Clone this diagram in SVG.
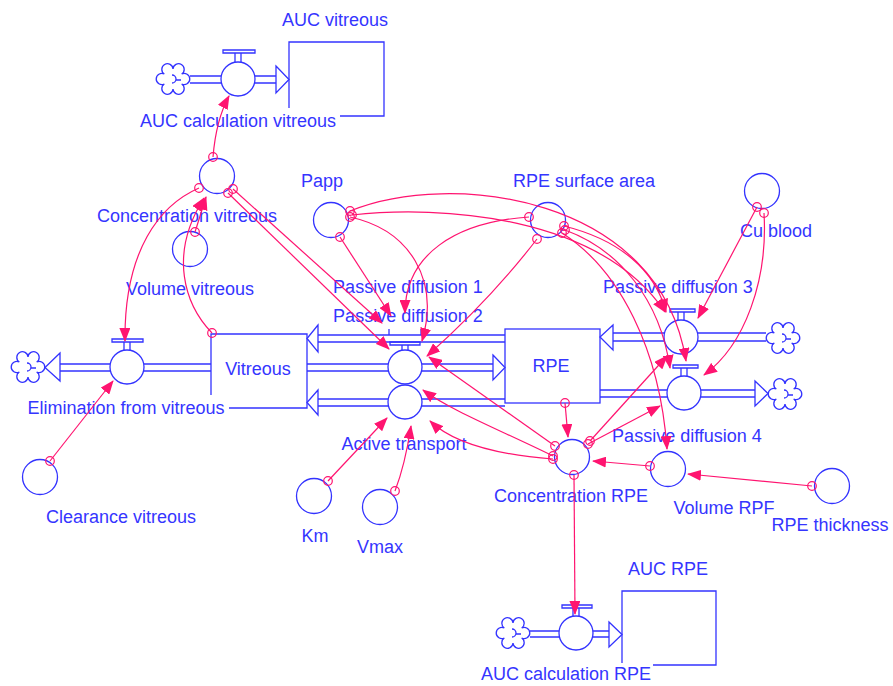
<svg xmlns="http://www.w3.org/2000/svg" width="893" height="686" viewBox="0 0 893 686">
  <style>
    .lbl { font-family: "Liberation Sans", Arial, sans-serif; font-size: 18px; fill: #3535ff; text-anchor: middle; }
    .ln { fill: none; stroke: #3333ff; stroke-width: 1.3; }
    .sh { fill: #ffffff; stroke: #3333ff; stroke-width: 1.3; }
    .link { fill: none; stroke: #ff1470; stroke-width: 1.2; marker-start: url(#src); marker-end: url(#ah); }
  </style>
  <defs>
    <marker id="ah" viewBox="0 0 14 11" refX="13" refY="5.5" markerWidth="14" markerHeight="11" markerUnits="userSpaceOnUse" orient="auto">
      <path d="M0,0 L14,5.5 L0,11 z" fill="#ff1470"/>
    </marker>
    <marker id="src" viewBox="-6 -6 12 12" refX="0" refY="0" markerWidth="12" markerHeight="12" markerUnits="userSpaceOnUse">
      <circle r="4.3" fill="none" stroke="#ff1470" stroke-width="1.2"/>
    </marker>
    <!-- source/sink cloud -->
    <g id="cloud">
      <path class="sh" d="M0,-10 A5.6,5.6 0 1 1 8.66,-5 A5.6,5.6 0 1 1 8.66,5 A5.6,5.6 0 1 1 0,10 A5.6,5.6 0 1 1 -8.66,5 A5.6,5.6 0 1 1 -8.66,-5 A5.6,5.6 0 1 1 0,-10 z"/>
      <path class="ln" d="M-1,-4 A4,4 0 1 1 -1,4 M3,1 L8,1"/>
    </g>
  </defs>

  <rect width="893" height="686" fill="#ffffff"/>

  <!-- stocks -->
  <g id="AUC_vitreous">
    <path class="ln" d="M289,108 V42 H384 V116 H340"/>
    <text class="lbl" x="335" y="26">AUC vitreous</text>
  </g>
  <g id="Vitreous">
    <path class="ln" d="M211,395 V334 H307 V408 H229"/>
    <text class="lbl" x="258" y="375">Vitreous</text>
  </g>
  <g id="RPE">
    <rect class="ln" x="505" y="329" width="95" height="74"/>
    <text class="lbl" x="551" y="372">RPE</text>
  </g>
  <g id="AUC_RPE">
    <path class="ln" d="M622,663 V591 H716 V665 H653"/>
    <text class="lbl" x="668" y="575">AUC RPE</text>
  </g>

  <!-- flows -->
  <g id="AUC_calculation_vitreous">
    <use href="#cloud" x="173" y="79"/>
    <path class="ln" d="M190,76 H276 M190,83 H276"/>
    <polygon class="sh" points="276,66 289,79.5 276,93"/>
    <path class="ln" d="M223,50 H255 V53 H223 Z M235,53 V62 M241,53 V62"/>
    <circle class="sh" cx="238" cy="79" r="17"/>
    <text class="lbl" x="238" y="127">AUC calculation vitreous</text>
  </g>
  <g id="Elimination_from_vitreous">
    <use href="#cloud" x="28" y="367"/>
    <path class="ln" d="M60,364 H211 M60,371 H211"/>
    <polygon class="sh" points="60,353 45,367.5 60,381"/>
    <path class="ln" d="M112,339 H143 V342 H112 Z M124,342 V350 M130,342 V350"/>
    <circle class="sh" cx="127" cy="367" r="17"/>
    <text class="lbl" x="126" y="414">Elimination from vitreous</text>
  </g>
  <g id="Passive_diffusion_1">
    <path class="ln" d="M318,335 H505 M318,342 H505"/>
    <polygon class="sh" points="318,325 307,338.5 318,352"/>
    <path class="ln" d="M389,329 V335 M421,329 V335"/>
    <text class="lbl" x="408" y="293">Passive diffusion 1</text>
  </g>
  <g id="Passive_diffusion_2">
    <path class="ln" d="M307,364 H493 M307,371 H493"/>
    <polygon class="sh" points="493,355 505,367.5 493,380"/>
    <path class="ln" d="M390,342 H420 V345 H390 Z M402,345 V350 M408,345 V350"/>
    <circle class="sh" cx="405" cy="367" r="17"/>
    <text class="lbl" x="408" y="322">Passive diffusion 2</text>
  </g>
  <g id="Active_transport">
    <path class="ln" d="M318,399 H505 M318,406 H505"/>
    <polygon class="sh" points="318,390 307,402.5 318,415"/>
    <circle class="sh" cx="405" cy="402" r="17"/>
    <text class="lbl" x="404" y="450">Active transport</text>
  </g>
  <g id="Passive_diffusion_3">
    <use href="#cloud" x="783" y="338"/>
    <path class="ln" d="M613,333 H766 M613,341 H766"/>
    <polygon class="sh" points="613,325 600,337 613,350"/>
    <path class="ln" d="M670,309 H695 V312 H670 Z M678,312 V320 M684,312 V320"/>
    <circle class="sh" cx="681" cy="337" r="17"/>
    <text class="lbl" x="678" y="293">Passive diffusion 3</text>
  </g>
  <g id="Passive_diffusion_4">
    <use href="#cloud" x="785" y="394"/>
    <path class="ln" d="M600,390 H755 M600,397 H755"/>
    <polygon class="sh" points="755,381 768,393.5 755,406"/>
    <path class="ln" d="M673,365 H698 V368 H673 Z M681,368 V376 M687,368 V376"/>
    <circle class="sh" cx="684" cy="393" r="17"/>
    <text class="lbl" x="687" y="442">Passive diffusion 4</text>
  </g>
  <g id="AUC_calculation_RPE">
    <use href="#cloud" x="513" y="633"/>
    <path class="ln" d="M530,631 H609 M530,637 H609"/>
    <polygon class="sh" points="609,622 622,634.5 609,647"/>
    <path class="ln" d="M562,605 H592 V608 H562 Z M573,608 V616 M579,608 V616"/>
    <circle class="sh" cx="576" cy="633" r="17"/>
    <text class="lbl" x="566" y="680">AUC calculation RPE</text>
  </g>

  <!-- converters -->
  <g id="Concentration_vitreous">
    <circle class="sh" cx="217" cy="176" r="17.5"/>
    <text class="lbl" x="187" y="222">Concentration vitreous</text>
  </g>
  <g id="Volume_vitreous">
    <circle class="sh" cx="190" cy="249" r="17.5"/>
    <text class="lbl" x="190" y="295">Volume vitreous</text>
  </g>
  <g id="Clearance_vitreous">
    <circle class="sh" cx="40" cy="477" r="17.5"/>
    <text class="lbl" x="121" y="523">Clearance vitreous</text>
  </g>
  <g id="Papp">
    <circle class="sh" cx="331" cy="220" r="17.5"/>
    <text class="lbl" x="322" y="187">Papp</text>
  </g>
  <g id="RPE_surface_area">
    <circle class="sh" cx="548" cy="220" r="17.5"/>
    <text class="lbl" x="584" y="187">RPE surface area</text>
  </g>
  <g id="Cu_blood">
    <circle class="sh" cx="762" cy="191" r="17.5"/>
    <text class="lbl" x="776" y="237">Cu blood</text>
  </g>
  <g id="Km">
    <circle class="sh" cx="314" cy="496" r="17.5"/>
    <text class="lbl" x="315" y="542">Km</text>
  </g>
  <g id="Vmax">
    <circle class="sh" cx="380" cy="507" r="17.5"/>
    <text class="lbl" x="380" y="553">Vmax</text>
  </g>
  <g id="Concentration_RPE">
    <circle class="sh" cx="572" cy="457" r="17.5"/>
    <text class="lbl" x="571" y="502">Concentration RPE</text>
  </g>
  <g id="Volume_RPF">
    <circle class="sh" cx="668" cy="469" r="17.5"/>
    <text class="lbl" x="724" y="514">Volume RPF</text>
  </g>
  <g id="RPE_thickness">
    <circle class="sh" cx="832" cy="486" r="17.5"/>
    <text class="lbl" x="830" y="531">RPE thickness</text>
  </g>

  <!-- connectors -->
  <g id="connectors">
    <path class="link" d="M213,157 Q216,120 229,96"/>
    <path class="link" d="M195,232 L206,197"/>
    <path class="link" d="M212,333 C185,305 168,255 204,198"/>
    <path class="link" d="M199,188 C160,205 124,250 125,341"/>
    <path class="link" d="M50,461 L113,381"/>
    <path class="link" d="M233,189 L382,323"/>
    <path class="link" d="M228,193 L389,349"/>
    <path class="link" d="M340,237 L391,316"/>
    <path class="link" d="M529,217 C455,222 405,255 405,313"/>
    <path class="link" d="M350,217 C410,230 440,280 422,341"/>
    <path class="link" d="M537,239 Q490,300 427,356"/>
    <path class="link" d="M350,211 C450,170 660,195 686,361"/>
    <path class="link" d="M352,215 C440,205 600,215 665,312"/>
    <path class="link" d="M564,226 C620,240 655,270 666,312"/>
    <path class="link" d="M565,230 C620,250 660,300 670,368"/>
    <path class="link" d="M562,233 C620,270 660,350 667,449"/>
    <path class="link" d="M757,207 L698,318"/>
    <path class="link" d="M764,213 C768,280 745,345 704,375"/>
    <path class="link" d="M565,403 L568,437"/>
    <path class="link" d="M650,466 L593,461"/>
    <path class="link" d="M812,486 L688,474"/>
    <path class="link" d="M574,475 L575,614"/>
    <path class="link" d="M588,444 L660,406"/>
    <path class="link" d="M590,441 L667,356"/>
    <path class="link" d="M555,446 L429,357"/>
    <path class="link" d="M553,456 C500,430 450,410 423,390"/>
    <path class="link" d="M553,459 C500,455 455,445 430,421"/>
    <path class="link" d="M328,481 L387,418"/>
    <path class="link" d="M395,491 Q405,465 411,426"/>
  </g>
</svg>
